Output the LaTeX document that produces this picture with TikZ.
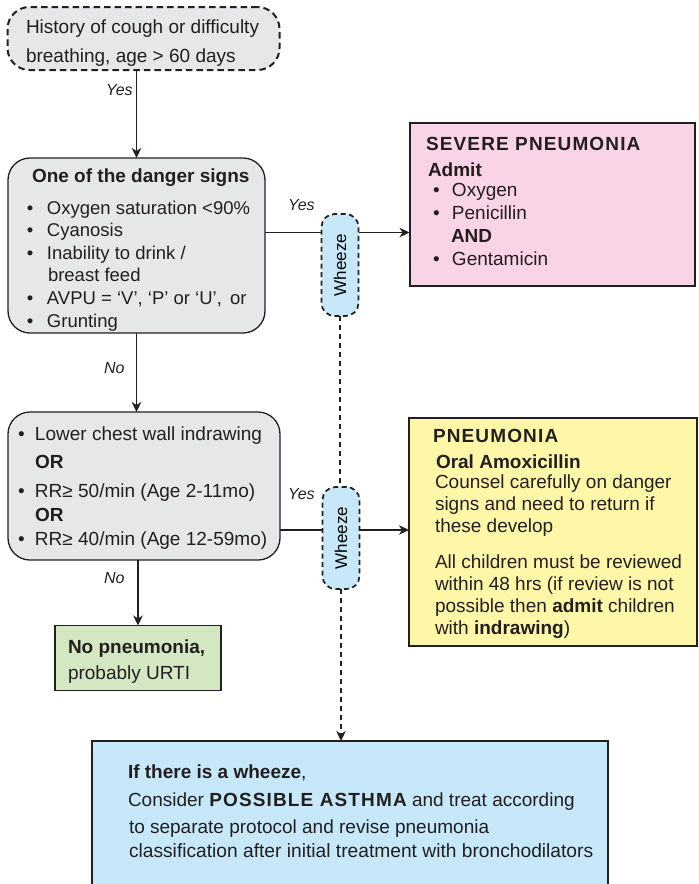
\documentclass[tikz,border=0pt]{standalone}
\usepackage{fontspec}
\usepackage{graphicx}
\setmainfont{Liberation Sans}
\usetikzlibrary{arrows.meta,calc}
\definecolor{linec}{HTML}{231F20}
\definecolor{grayfill}{HTML}{E6E7E8}
\definecolor{pinkfill}{HTML}{F9D3E6}
\definecolor{yellowfill}{HTML}{FFF7A8}
\definecolor{greenfill}{HTML}{D3E8C2}
\definecolor{bluefill}{HTML}{C6E8F9}
\newcommand{\bul}[1]{\makebox[#1][l]{•}}
\begin{document}
\begin{tikzpicture}[x=1pt,y=-1pt,
  every node/.style={inner sep=0pt,outer sep=0pt},
  graybox/.style={draw=linec,line width=1.3pt,fill=grayfill,rounded corners=22pt},
  dashbox/.style={draw=linec,line width=2pt,dash pattern=on 6.5pt off 4pt,fill=grayfill,rounded corners=22pt},
  resbox/.style={draw=linec,line width=2pt},
  wz/.style={draw=linec,line width=1.7pt,dash pattern=on 5pt off 3.5pt,fill=bluefill,rounded corners=13pt,minimum width=37pt,minimum height=102pt,font=\fontsize{17}{20}\selectfont},
  conn/.style={draw=linec,line width=1.5pt},
  arr/.style={conn,-{Stealth[length=10pt,width=9.5pt,inset=3pt]}},
  dline/.style={draw=linec,line width=1.6pt,dash pattern=on 5pt off 4pt},
  txt/.style={anchor=base west,font=\fontsize{19}{22}\selectfont,text=linec},
  dtxt/.style={txt,font=\fontsize{18.5}{22}\selectfont},
  lab/.style={anchor=base west,font=\fontsize{16}{19}\selectfont\itshape,text=linec},
  ttl/.style={anchor=base west,font=\fontsize{19}{22}\selectfont\bfseries\addfontfeature{LetterSpace=6},text=linec}]
\useasboundingbox (0,0) rectangle (699,884);

% boxes
\node[dashbox,minimum width=272pt,minimum height=63pt] (top) at (143.5,38.5) {};
\node[graybox,minimum width=257pt,minimum height=175pt] (danger) at (136.5,245.5) {};
\node[graybox,minimum width=272pt,minimum height=148pt] (chest) at (144,486) {};
\node[resbox,fill=greenfill,line width=1.6pt,minimum width=166pt,minimum height=65pt] (green) at (138,658) {};
\node[resbox,fill=pinkfill,minimum width=285pt,minimum height=163pt] (pink) at (552,204.5) {};
\node[resbox,fill=yellowfill,minimum width=288pt,minimum height=228pt] (yellow) at (553,532) {};
\node[resbox,fill=bluefill,minimum width=516pt,minimum height=160pt] (asthma) at (350,821) {};
\node[wz] (w1) at (340,265) {\rotatebox{90}{Wheeze}};
\node[wz] (w2) at (341,538) {\rotatebox{90}{Wheeze}};

% connectors
\draw[arr] (danger.north |- top.south) -- (danger.north);
\draw[arr] (danger.south) -- (danger.south |- chest.north);
\draw[arr] (green.north |- chest.south) -- (green.north);
\draw[conn] ([yshift=13pt]danger.east) -- ([yshift=13pt]danger.east -| w1.west);
\draw[arr] ([yshift=13pt]danger.east -| w1.east) -- ([yshift=13pt]danger.east -| pink.west);
\draw[conn] ([yshift=-44pt]chest.east) -- ([yshift=-44pt]chest.east -| w2.west);
\draw[arr] ([yshift=-44pt]chest.east -| w2.east) -- ([yshift=-44pt]chest.east -| yellow.west);
\draw[dline] (w1.south) -- (w1.south |- w2.north);
\draw[dline,-{Stealth[length=10pt,width=9.5pt,inset=3pt]}] (w2.south) -- (w2.south |- asthma.north);

% labels
\node[lab] (l1) at (106,95) {Yes};
\node[lab] (l2) at (288,210) {Yes};
\node[lab] (l3) at (104,373) {No};
\node[lab] (l4) at (288,499) {Yes};
\node[lab] (l5) at (104,583) {No};

% top box text
\node[txt] (a1) at (26,33) {History of cough or difficulty};
\node[txt] (a2) at (26,62) {breathing, age > 60 days};

% danger box text
\node[txt,font=\fontsize{19}{22}\selectfont\bfseries] (b0) at (32,182) {One of the danger signs};
\node[dtxt] (b1) at (27,214) {\bul{20pt}Oxygen saturation <90\%};
\node[dtxt] (b2) at (27,236) {\bul{20pt}Cyanosis};
\node[dtxt] (b3) at (27,259) {\bul{20pt}Inability to drink /};
\node[dtxt] (b4) at (48,281) {breast feed};
\node[dtxt] (b5) at (27,304) {\bul{20pt}AVPU = ‘V’, ‘P’ or ‘U’,\, or};
\node[dtxt] (b6) at (27,327) {\bul{20pt}Grunting};

% chest box text
\node[txt] (c1) at (18,440) {\bul{17pt}Lower chest wall indrawing};
\node[txt,font=\fontsize{19}{22}\selectfont\bfseries] (c2) at (35,468) {OR};
\node[txt] (c3) at (18,497) {\bul{17pt}RR≥ 50/min (Age 2-11mo)};
\node[txt,font=\fontsize{19}{22}\selectfont\bfseries] (c4) at (35,521) {OR};
\node[txt] (c5) at (18,545) {\bul{17pt}RR≥ 40/min (Age 12-59mo)};

% green text
\node[txt,font=\fontsize{19}{22}\selectfont\bfseries] (g1) at (68,653) {No pneumonia,};
\node[txt] (g2) at (68,679) {probably URTI};

% pink text
\node[ttl] (p0) at (426,150) {SEVERE PNEUMONIA};
\node[txt,font=\fontsize{19}{22}\selectfont\bfseries] (p1) at (428,176) {Admit};
\node[txt] (p2) at (433,196) {\bul{19pt}Oxygen};
\node[txt] (p3) at (433,219) {\bul{19pt}Penicillin};
\node[txt,font=\fontsize{19}{22}\selectfont\bfseries] (p4) at (451,242) {AND};
\node[txt] (p5) at (433,265) {\bul{19pt}Gentamicin};

% yellow text
\node[ttl] (y0) at (433,442) {PNEUMONIA};
\node[txt,font=\fontsize{19}{22}\selectfont\bfseries] (y1) at (436,468) {Oral Amoxicillin};
\node[txt] (y2) at (435,488) {Counsel carefully on danger};
\node[txt] (y3) at (435,510) {signs and need to return if};
\node[txt] (y4) at (435,532) {these develop};
\node[txt] (y5) at (435,568) {All children must be reviewed};
\node[txt] (y6) at (435,590) {within 48 hrs (if review is not};
\node[txt] (y7) at (435,612) {possible then \textbf{admit} children};
\node[txt] (y8) at (435,634) {with \textbf{indrawing})};

% asthma text
\node[txt] (s1) at (128,778) {\textbf{If there is a wheeze},};
\node[txt] (s2) at (128,806) {Consider {\bfseries\addfontfeature{LetterSpace=6}POSSIBLE ASTHMA} and treat according};
\node[txt] (s3) at (129,833) {to separate protocol and revise pneumonia};
\node[txt,font=\fontsize{19.2}{22}\selectfont] (s4) at (129,857) {classification after initial treatment with bronchodilators};
\end{tikzpicture}
\end{document}
